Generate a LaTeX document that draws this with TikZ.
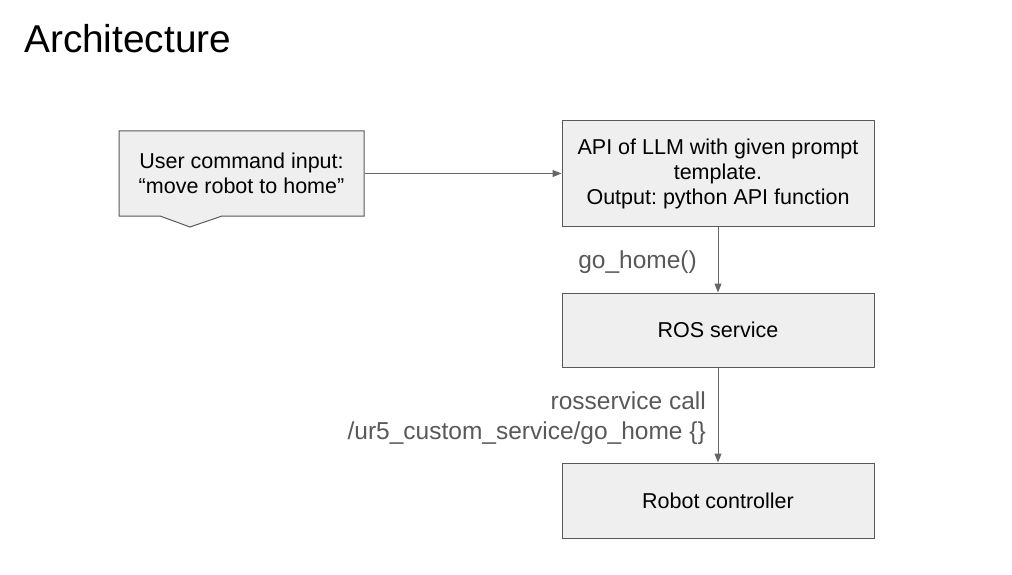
\documentclass[tikz,border=0pt]{standalone}
\usepackage{fontspec}
\setmainfont{Liberation Sans}
\usetikzlibrary{arrows.meta,calc,positioning}
\frenchspacing

\definecolor{boxfill}{HTML}{EFEFEF}
\definecolor{boxline}{HTML}{595959}
\definecolor{linkgray}{HTML}{666666}
\definecolor{labelgray}{HTML}{595959}

\tikzset{
  block/.style={draw=boxline,fill=boxfill,line width=1pt,inner sep=0pt,align=center,
    font=\fontsize{21.5}{25}\selectfont},
  link/.style={draw=linkgray,line width=1pt,-{Triangle[length=9pt,width=7pt]}},
  linklabel/.style={text=labelgray,align=right,inner sep=0pt,font=\fontsize{24.5}{30}\selectfont}
}

\begin{document}
\begin{tikzpicture}[x=1pt,y=-1pt]
\useasboundingbox (0,0) rectangle (1012,575);

% title
\node[anchor=base west,inner sep=0pt,font=\fontsize{38.8}{40}\selectfont] (title) at (24,53) {Architecture};

% the user input callout
\coordinate (usw) at (119,216);
\filldraw[draw=boxline,fill=boxfill,line width=1pt]
  (119,131) -- (364,131) -- (364,216)
  -- ($(usw)+(103,0)$) -- ($(usw)+(71,11)$)
  -- ($(usw)+(41,0)$) -- (usw) -- cycle;
\node[block,draw=none,fill=none,minimum width=245pt,minimum height=85pt] (user) at (241.5,173.5)
  {User command input:\\``move robot to home''};

% the chain on the right
\node[block,minimum width=312pt,minimum height=105pt] (llm) at (718,173.5)
  {API of LLM with given prompt\\template.\\Output: python API function};
\node[block,minimum width=312pt,minimum height=74pt] (ros) at (718,330) {ROS service};
\node[block,minimum width=312pt,minimum height=75pt] (robot) at (718,500.5) {Robot controller};

% connectors
\draw[link] (user.east) -- (llm.west);
\draw[link] (llm.south) -- (ros.north);
\draw[link] (ros.south) -- (robot.north);

% labels of the connectors
\node[linklabel,anchor=east] (call) at (697,262) {go\_home()};
\node[linklabel,anchor=east] (srv) at (706,418) {rosservice call\\/ur5\_custom\_service/go\_home \{\}};
\end{tikzpicture}
\end{document}
